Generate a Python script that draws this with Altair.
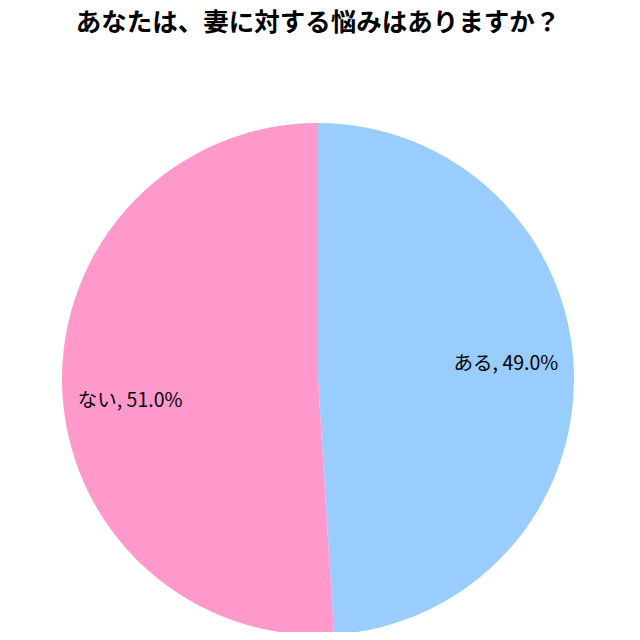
import altair as alt
import pandas as pd

title_text = "あなたは、妻に対する悩みはありますか？"
categories = ["ある", "ない"]
percents = [49.0, 51.0]
colors = ["#99CCFF", "#FF99CC"]
label_dy = [-9, 16]

df = pd.DataFrame({
    "cat": categories,
    "pct": percents,
    "order": list(range(len(categories))),
})
df["label"] = [f"{c}, {p:.1f}%" for c, p in zip(categories, percents)]

base = (
    alt.Chart(df)
    .transform_stack(stack="pct", as_=["s0", "s1"], groupby=[],
                     sort=[alt.SortField("order", order="ascending")])
    .transform_calculate(mid="(datum.s0 + datum.s1) / 2")
)

theta_scale = alt.Scale(domain=[0, 100])

pie = base.mark_arc(outerRadius=256).encode(
    theta=alt.Theta("s0:Q", scale=theta_scale),
    theta2="s1:Q",
    color=alt.Color("cat:N", scale=alt.Scale(domain=categories, range=colors), legend=None),
)

layers = [pie]
for c, d in zip(categories, label_dy):
    layers.append(
        base.transform_filter(alt.datum.cat == c)
        .mark_text(radius=188, dy=d, fontSize=19.5, font="Noto Sans CJK JP",
                   color="#000000", align="center", baseline="middle")
        .encode(theta=alt.Theta("mid:Q", scale=theta_scale), text="label:N")
    )

chart = (
    alt.layer(*layers)
    .properties(
        width=620,
        height=506,
        title=alt.TitleParams(title_text, fontSize=25.5, font="Noto Sans CJK JP",
                              fontWeight="bold", color="#000000", anchor="middle",
                              offset=62, baseline="bottom"),
        autosize=alt.AutoSizeParams(type="none"),
        padding={"left": 0, "top": 118, "right": 0, "bottom": 0},
    )
    .configure_view(stroke=None)
)

chart.save("out.html", embed_options={"renderer": "svg", "actions": False})
